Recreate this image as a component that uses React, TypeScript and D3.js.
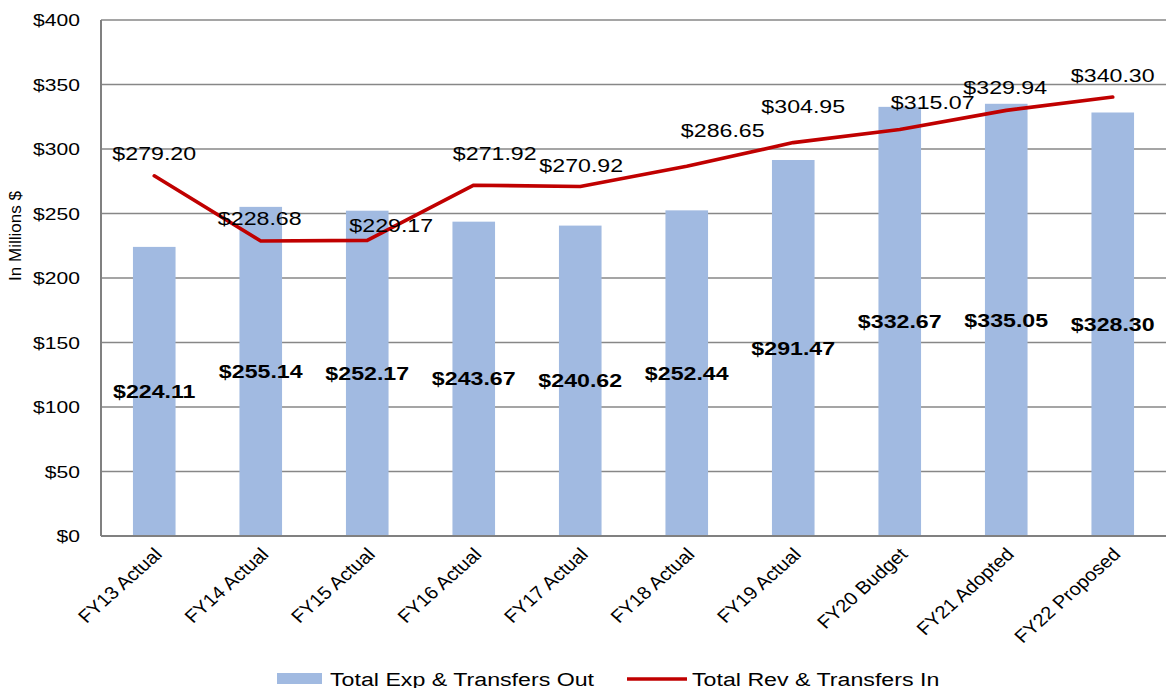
import React from "react";
import * as d3 from "d3";

const categories = [
  "FY13 Actual", "FY14 Actual", "FY15 Actual", "FY16 Actual", "FY17 Actual",
  "FY18 Actual", "FY19 Actual", "FY20 Budget", "FY21 Adopted", "FY22 Proposed",
];
const expenses = [224.11, 255.14, 252.17, 243.67, 240.62, 252.44, 291.47, 332.67, 335.05, 328.3];
const revenues = [279.2, 228.68, 229.17, 271.92, 270.92, 286.65, 304.95, 315.07, 329.94, 340.3];
const yTicks = [0, 50, 100, 150, 200, 250, 300, 350, 400];
const seriesNames = ["Total Exp & Transfers Out", "Total Rev & Transfers In"];

// label offsets (px) for revenue labels relative to their points (layout only)
const revLabelOffsets: [number, number][] = [
  [0, -22], [-1, -22.5], [24, -15], [21, -32], [1, -21.5],
  [36, -36], [10, -36], [33, -27], [-1, -23], [0, -22],
];

const W = 1167, H = 688;
const M = { left: 101, right: 1166, top: 20, bottom: 536 };
const SX = 1.22;
const XSX = 1.12;
const FONT = "'Liberation Sans', Arial, sans-serif";
const BAR = "#a1bae1";
const RED = "#c00000";
const GRID = "#878787";

const fmt = (v: number) => "$" + v.toFixed(2);

export default function App() {
  const x = d3.scaleBand<string>().domain(categories).range([M.left, M.right]).paddingInner(0.6).paddingOuter(0.3);
  const y = d3.scaleLinear().domain([0, 400]).range([M.bottom, M.top]);
  const cx = (c: string) => (x(c) as number) + x.bandwidth() / 2;
  const line = d3.line<number>().x((_, i) => cx(categories[i])).y((d) => y(d));

  const T = (px: number, py: number, content: string, opts: any = {}) => (
    <g transform={`translate(${px},${py}) scale(${SX},1)`}>
      <text
        x={0}
        y={0}
        dy="0.35em"
        textAnchor={opts.anchor || "middle"}
        fontSize={opts.size || 19}
        fontWeight={opts.bold ? "bold" : "normal"}
        fontFamily={FONT}
        fill="#000"
      >
        {content}
      </text>
    </g>
  );

  return (
    <svg width={W} height={H} style={{ position: "absolute", left: 0, top: 0, background: "#fff" }}>
      <rect x={0} y={0} width={W} height={H} fill="#fff" />
      {/* gridlines */}
      {yTicks.map((t) => (
        <line key={"g" + t} x1={M.left} x2={M.right} y1={y(t)} y2={y(t)} stroke={GRID} strokeWidth={1.4} />
      ))}
      {/* y tick labels */}
      {yTicks.map((t) => (
        <g key={"yt" + t}>{T(80, y(t), "$" + t, { anchor: "end", size: 17.3 })}</g>
      ))}
      {/* y axis title */}
      <text
        transform={`translate(15,236) rotate(-90)`}
        textAnchor="middle"
        dy="0.35em"
        fontSize={17}
        fontFamily={FONT}
      >
        In Millions $
      </text>
      {/* bars */}
      {categories.map((c, i) => (
        <rect key={"b" + c} x={x(c)} y={y(expenses[i])} width={x.bandwidth()} height={M.bottom - y(expenses[i])} fill={BAR} />
      ))}
      {/* axes */}
      <line x1={M.left} x2={M.left} y1={M.top} y2={M.bottom} stroke="#808080" strokeWidth={2} />
      <line x1={M.left} x2={M.right} y1={M.bottom} y2={M.bottom} stroke="#808080" strokeWidth={2} />
      {/* revenue line */}
      <path d={line(revenues) || ""} fill="none" stroke={RED} strokeWidth={3.6} strokeLinejoin="round" strokeLinecap="round" />
      {/* bar labels */}
      {categories.map((c, i) => (
        <g key={"bl" + c}>{T(cx(c), y(expenses[i] / 2), fmt(expenses[i]), { bold: true, size: 19 })}</g>
      ))}
      {/* line labels */}
      {categories.map((c, i) => (
        <g key={"ll" + c}>
          {T(cx(c) + revLabelOffsets[i][0], y(revenues[i]) + revLabelOffsets[i][1], fmt(revenues[i]), { size: 19 })}
        </g>
      ))}
      {/* x labels */}
      {categories.map((c) => (
        <g key={"xl" + c} transform={`translate(${cx(c) + 4},${551}) scale(${XSX},1) rotate(-45)`}>
          <text textAnchor="end" dy="0.35em" fontSize={18} fontFamily={FONT}>
            {c}
          </text>
        </g>
      ))}
      {/* legend */}
      <rect x={277} y={673} width={45} height={11} fill={BAR} />
      {T(330, 679, seriesNames[0], { anchor: "start", size: 19 })}
      <line x1={627} x2={687} y1={679} y2={679} stroke={RED} strokeWidth={3.6} />
      {T(692, 679, seriesNames[1], { anchor: "start", size: 19 })}
    </svg>
  );
}
